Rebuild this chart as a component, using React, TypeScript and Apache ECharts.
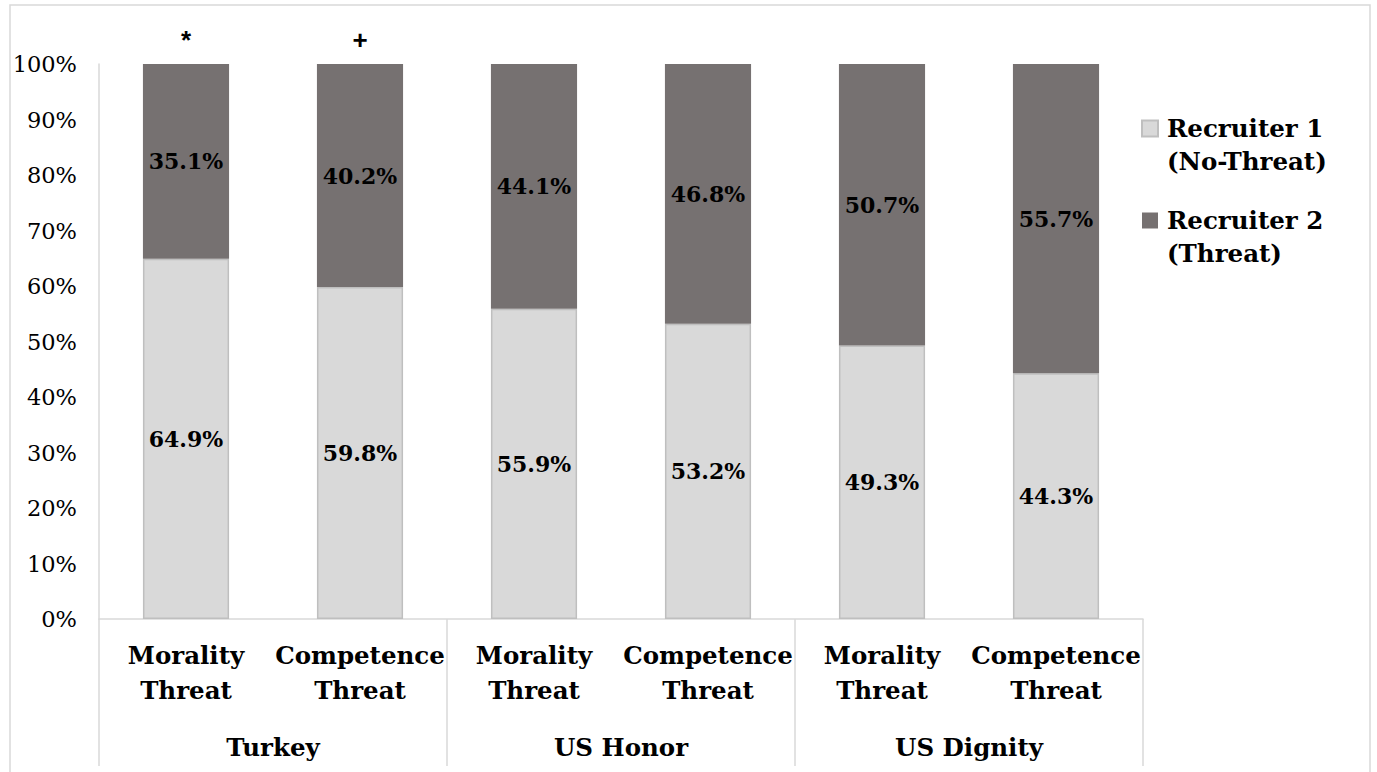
import React, { useEffect, useRef } from "react";
import * as echarts from "echarts";

const categories = [
  "Morality\nThreat",
  "Competence\nThreat",
  "Morality\nThreat",
  "Competence\nThreat",
  "Morality\nThreat",
  "Competence\nThreat",
];
const groups = ["Turkey", "US Honor", "US Dignity"];
const recruiter1 = [64.9, 59.8, 55.9, 53.2, 49.3, 44.3];
const recruiter2 = [35.1, 40.2, 44.1, 46.8, 50.7, 55.7];
const markers = ["*", "+", "", "", "", ""];
const seriesNames = ["Recruiter 1\n(No-Threat)", "Recruiter 2\n(Threat)"];
const yTicks = { min: 0, max: 100, interval: 10 };

const SERIF = "DejaVu Serif";
const SANS = "Liberation Sans, sans-serif";

export default function App() {
  const ref = useRef<HTMLDivElement>(null);
  useEffect(() => {
    document.body.style.margin = "0";
    if (!ref.current) return;
    const chart = echarts.init(ref.current, null, { renderer: "svg" });
    const lblStyle = {
      show: true,
      position: "inside",
      color: "#000",
      fontFamily: SERIF,
      fontWeight: "bold",
      fontSize: 22,
      formatter: (p: any) => p.value.toFixed(1) + "%",
    };
    const legendFont = {
      fontFamily: SERIF,
      fontWeight: "bold",
      fontSize: 24.5,
      color: "#000",
    };
    chart.setOption({
      animation: false,
      backgroundColor: "#fff",
      graphic: [
        {
          type: "rect",
          shape: { x: 10, y: 5, width: 1360, height: 820 },
          style: { fill: "none", stroke: "#D9D9D9", lineWidth: 1.5 },
          silent: true,
        },
      ],
      grid: { left: 99, right: 234, top: 64, bottom: 153, containLabel: false },
      legend: {
        orient: "vertical",
        left: 1141,
        top: 112,
        padding: 0,
        itemGap: 26,
        itemWidth: 16,
        itemHeight: 16,
        icon: "rect",
        data: seriesNames,
        formatter: (name: string) => {
          const parts = name.split("\n");
          return "{a|" + parts[0] + "}\n{b|" + parts[1] + "}";
        },
        textStyle: {
          ...legendFont,
          rich: {
            a: {
              ...legendFont,
              lineHeight: 66,
              height: 33,
              verticalAlign: "bottom",
              padding: [0, 0, 0, 4],
            },
            b: {
              ...legendFont,
              lineHeight: 33,
              height: 33,
              padding: [0, 0, 0, 4],
            },
          },
        },
      },
      xAxis: [
        {
          type: "category",
          data: categories,
          position: "bottom",
          axisLine: { show: true, lineStyle: { color: "#D9D9D9", width: 1.5 } },
          axisTick: { show: false },
          axisLabel: {
            interval: 0,
            margin: 19,
            color: "#000",
            fontFamily: SERIF,
            fontWeight: "bold",
            fontSize: 24.5,
            lineHeight: 35,
          },
        },
        {
          type: "category",
          data: groups,
          position: "bottom",
          axisLine: { show: false },
          axisTick: {
            show: true,
            interval: 0,
            length: 147,
            lineStyle: { color: "#D9D9D9", width: 1.5 },
          },
          axisLabel: {
            interval: 0,
            margin: 111,
            color: "#000",
            fontFamily: SERIF,
            fontWeight: "bold",
            fontSize: 24.5,
            lineHeight: 35,
          },
        },
      ],
      yAxis: {
        type: "value",
        min: yTicks.min,
        max: yTicks.max,
        interval: yTicks.interval,
        splitLine: { show: false },
        axisLine: { show: true, lineStyle: { color: "#D9D9D9", width: 1.5 } },
        axisTick: { show: false },
        axisLabel: {
          margin: 22,
          color: "#000",
          fontFamily: SERIF,
          fontSize: 22.5,
          formatter: "{value}%",
        },
      },
      series: [
        {
          name: seriesNames[0],
          type: "bar",
          stack: "total",
          xAxisIndex: 0,
          barCategoryGap: "50.5%",
          data: recruiter1,
          itemStyle: { color: "#D9D9D9", borderColor: "#BFBFBF", borderWidth: 1.5 },
          label: lblStyle,
        },
        {
          name: seriesNames[1],
          type: "bar",
          stack: "total",
          xAxisIndex: 0,
          data: recruiter2,
          itemStyle: { color: "#767171" },
          label: lblStyle,
        },
        {
          name: "markers",
          type: "bar",
          stack: "total",
          xAxisIndex: 0,
          data: markers.map(() => 0),
          itemStyle: { color: "transparent" },
          label: {
            show: true,
            position: "top",
            distance: 11,
            color: "#000",
            fontFamily: SANS,
            fontWeight: "bold",
            fontSize: 26,
            formatter: (p: any) => markers[p.dataIndex],
          },
        },
      ],
    });
    return () => chart.dispose();
  }, []);
  return <div ref={ref} style={{ width: 1377, height: 772 }} />;
}
